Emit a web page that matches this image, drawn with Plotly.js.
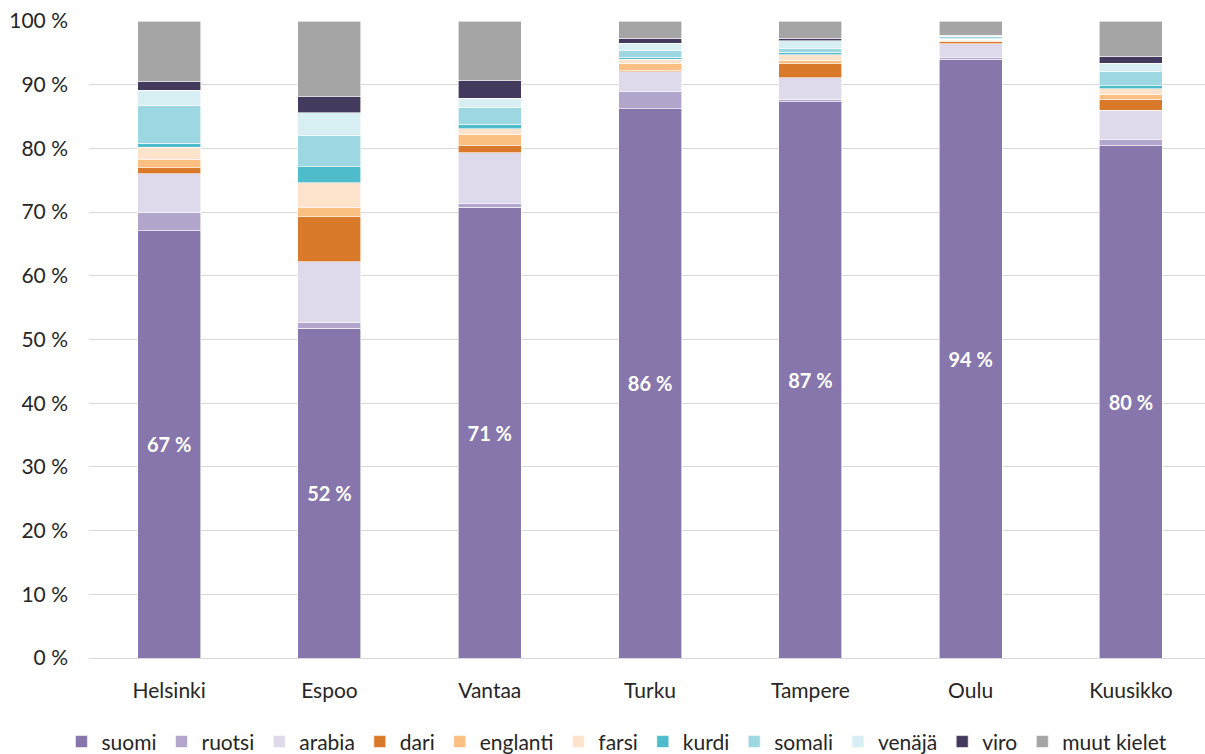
<!DOCTYPE html>
<html>
<head>
<meta charset="utf-8">
<script src="https://cdn.plot.ly/plotly-3.0.1.min.js"></script>
<style>html,body{margin:0;padding:0;background:#fff;}#chart{width:1205px;height:754px;}</style>
</head>
<body>
<div id="chart"></div>
<script>
const cities = ["Helsinki", "Espoo", "Vantaa", "Turku", "Tampere", "Oulu", "Kuusikko"];
const seriesNames = ["suomi", "ruotsi", "arabia", "dari", "englanti", "farsi", "kurdi", "somali", "venäjä", "viro", "muut kielet"];
const suomi    = [67.1, 51.8, 70.8, 86.2, 87.3, 94.0, 80.4];
const ruotsi   = [2.9, 0.9, 0.6, 2.8, 0.3, 0.2, 1.0];
const arabia   = [6.0, 9.5, 7.9, 3.0, 3.5, 2.2, 4.6];
const dari     = [1.0, 7.1, 1.1, 0.3, 2.2, 0.4, 1.7];
const englanti = [1.2, 1.4, 1.8, 1.1, 0.5, 0.2, 0.8];
const farsi    = [2.0, 3.9, 0.9, 0.6, 0.9, 0.1, 0.9];
const kurdi    = [0.6, 2.5, 0.7, 0.3, 0.4, 0.1, 0.4];
const somali   = [6.0, 5.0, 2.6, 1.1, 0.6, 0.3, 2.3];
const venaja   = [2.3, 3.5, 1.5, 1.1, 1.2, 0.2, 1.3];
const viro     = [1.4, 2.5, 2.7, 0.8, 0.4, 0.1, 1.1];
const muut     = [9.5, 11.9, 9.4, 2.7, 2.7, 2.2, 5.5];
const colors = ["#8676ab", "#b2a6cc", "#dedaeb", "#d97a2b", "#fbbf82", "#fde3cc", "#4fbccb", "#9dd7e1", "#d7eff3", "#443a5e", "#a5a5a5"];

const allSeries = [suomi, ruotsi, arabia, dari, englanti, farsi, kurdi, somali, venaja, viro, muut];
const FONT = "Lato, Open Sans, sans-serif";

const traces = allSeries.map((vals, i) => {
  const t = {
    type: "bar",
    name: seriesNames[i],
    x: cities,
    y: vals,
    marker: {color: colors[i], line: {color: "#ffffff", width: 0.6}},
    hoverinfo: "x+y+name"
  };
  if (i === 0) {
    t.texttemplate = "%{y:.0f} %";
    t.textposition = "inside";
    t.insidetextanchor = "middle";
    t.textfont = {family: FONT, size: 20, color: "#ffffff", weight: "bold"};
  } else {
    t.textposition = "none";
  }
  return t;
});

const layout = {
  width: 1205,
  height: 754,
  barmode: "stack",
  bargap: 0.607,
  paper_bgcolor: "#ffffff",
  plot_bgcolor: "#ffffff",
  margin: {l: 89, r: 0, t: 21, b: 96, autoexpand: false},
  font: {family: FONT, size: 21, color: "#262626"},
  showlegend: true,
  legend: {
    orientation: "h",
    xref: "container", yref: "container",
    x: 0.512, xanchor: "center",
    y: 0.016, yanchor: "middle",
    font: {family: FONT, size: 21, color: "#262626"},
    traceorder: "normal",
    itemwidth: 30
  },
  xaxis: {
    type: "category",
    range: [-0.5, 6.462],
    showgrid: false,
    showline: true,
    linecolor: "#d9d9d9",
    linewidth: 1,
    ticks: "",
    ticklabelstandoff: 14,
    tickfont: {family: FONT, size: 21, color: "#262626"}
  },
  yaxis: {
    range: [0, 100],
    dtick: 10,
    ticksuffix: " %",
    showgrid: true,
    gridcolor: "#d9d9d9",
    gridwidth: 1,
    zeroline: false,
    showline: false,
    ticks: "",
    ticklen: 0,
    ticklabelstandoff: 20,
    tickfont: {family: FONT, size: 21, color: "#262626"}
  }
};

Plotly.newPlot("chart", traces, layout, {displayModeBar: false, responsive: false});
</script>
</body>
</html>
